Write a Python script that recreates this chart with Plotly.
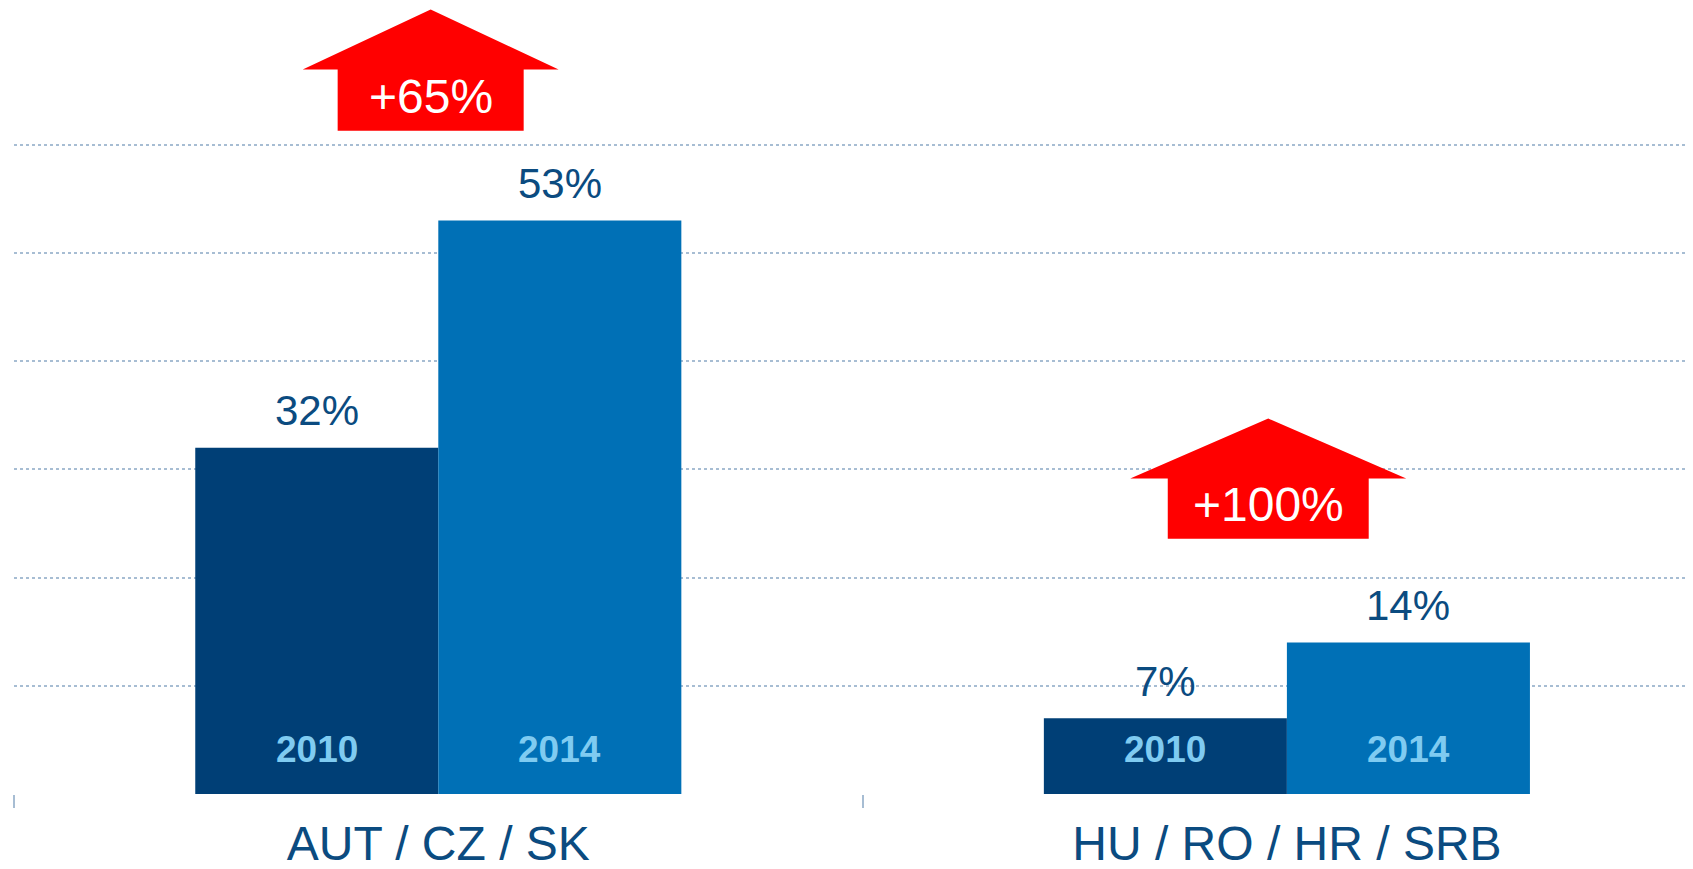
import plotly.graph_objects as go

# ---------------- data ----------------
categories = ["AUT / CZ / SK", "HU / RO / HR / SRB"]
years = ["2010", "2014"]
values_2010 = [32, 7]
values_2014 = [53, 14]
value_labels_2010 = ["32%", "7%"]
value_labels_2014 = ["53%", "14%"]
growth_labels = ["+65%", "+100%"]
grid_ticks = [0, 10, 20, 30, 40, 50, 60]

# ---------------- style ----------------
FONT = "Arial, Liberation Sans, Helvetica, sans-serif"
LABEL_COLOR = "#0B4B80"
YEAR_COLOR = "#7FCBF1"
COLOR_2010 = "#003F76"
COLOR_2014 = "#0070B6"
GRID_COLOR = "#A7BDD3"
ARROW_COLOR = "#FF0000"

PAGE_OFFSET = 8  # default body margin of the html page
W, H = 1693 - PAGE_OFFSET, 869 - PAGE_OFFSET
M_L, M_R, M_T, M_B = 14 - PAGE_OFFSET, 0, 0, 75
PX_PER_CAT = 848.6
PX_PER_PCT = 10.82
BAR_W = 0.2864  # width of one bar in category units

plot_w = W - M_L - M_R
plot_h = H - M_T - M_B
x_range = [-0.5, -0.5 + plot_w / PX_PER_CAT]
y_range = [0, plot_h / PX_PER_PCT]

# arrow geometry (in axis units): gap above tallest bar, shaft/head sizes
arrow_style = [
    dict(dx=-0.009, gap=8.3, shaft_h=5.65, head_h=5.55, shaft_hw=0.1096, head_hw=0.1508),
    dict(dx=-0.022, gap=9.6, shaft_h=5.55, head_h=5.55, shaft_hw=0.1184, head_hw=0.1626),
]

fig = go.Figure()
fig.add_trace(go.Bar(x=categories, y=values_2010, name=years[0],
                     marker=dict(color=COLOR_2010, line=dict(width=0))))
fig.add_trace(go.Bar(x=categories, y=values_2014, name=years[1],
                     marker=dict(color=COLOR_2014, line=dict(width=0))))

annotations = []
shapes = []
for i, cat in enumerate(categories):
    for j, (vals, labs) in enumerate([(values_2010, value_labels_2010),
                                      (values_2014, value_labels_2014)]):
        xc = i + (j - 0.5) * BAR_W
        annotations.append(dict(x=xc, y=vals[i], xref="x", yref="y", text=labs[i],
                                showarrow=False, yanchor="middle", yshift=37,
                                font=dict(family=FONT, size=42, color=LABEL_COLOR)))
        annotations.append(dict(x=xc, y=0, xref="x", yref="y", text="<b>%s</b>" % years[j],
                                showarrow=False, yanchor="middle", yshift=45,
                                font=dict(family=FONT, size=37, color=YEAR_COLOR)))
    st = arrow_style[i]
    cx = i + st["dx"]
    base = max(values_2010[i], values_2014[i]) + st["gap"]
    top_shaft = base + st["shaft_h"]
    tip = top_shaft + st["head_h"]
    path = ("M {a},{b} L {a},{c} L {d},{c} L {e},{t} L {f},{c} L {g},{c} L {g},{b} Z"
            .format(a=cx - st["shaft_hw"], b=base, c=top_shaft, d=cx - st["head_hw"],
                    e=cx, t=tip, f=cx + st["head_hw"], g=cx + st["shaft_hw"]))
    shapes.append(dict(type="path", path=path, xref="x", yref="y",
                       fillcolor=ARROW_COLOR, line=dict(width=0), layer="above"))
    annotations.append(dict(x=cx, y=(base + top_shaft) / 2, xref="x", yref="y",
                            text=growth_labels[i], showarrow=False, yanchor="middle",
                            yshift=4,
                            font=dict(family=FONT, size=48, color="white")))

fig.update_layout(
    width=W, height=H,
    margin=dict(l=M_L, r=M_R, t=M_T, b=M_B, pad=0),
    paper_bgcolor="white", plot_bgcolor="white",
    barmode="group", bargap=1 - 2 * BAR_W, bargroupgap=0,
    showlegend=False,
    annotations=annotations, shapes=shapes,
    xaxis=dict(type="category", range=x_range, showgrid=False, zeroline=False,
               showline=False, ticks="outside", tickson="boundaries", ticklen=13,
               tickwidth=2, tickcolor=GRID_COLOR,
               tickfont=dict(family=FONT, size=48, color=LABEL_COLOR),
               ticklabelstandoff=17, automargin=False),
    yaxis=dict(range=y_range, tickvals=grid_ticks, showticklabels=False,
               showgrid=True, gridcolor=GRID_COLOR, gridwidth=2, griddash="dot",
               zeroline=False, showline=False, ticks="", automargin=False),
)

fig.write_html("out.html")
